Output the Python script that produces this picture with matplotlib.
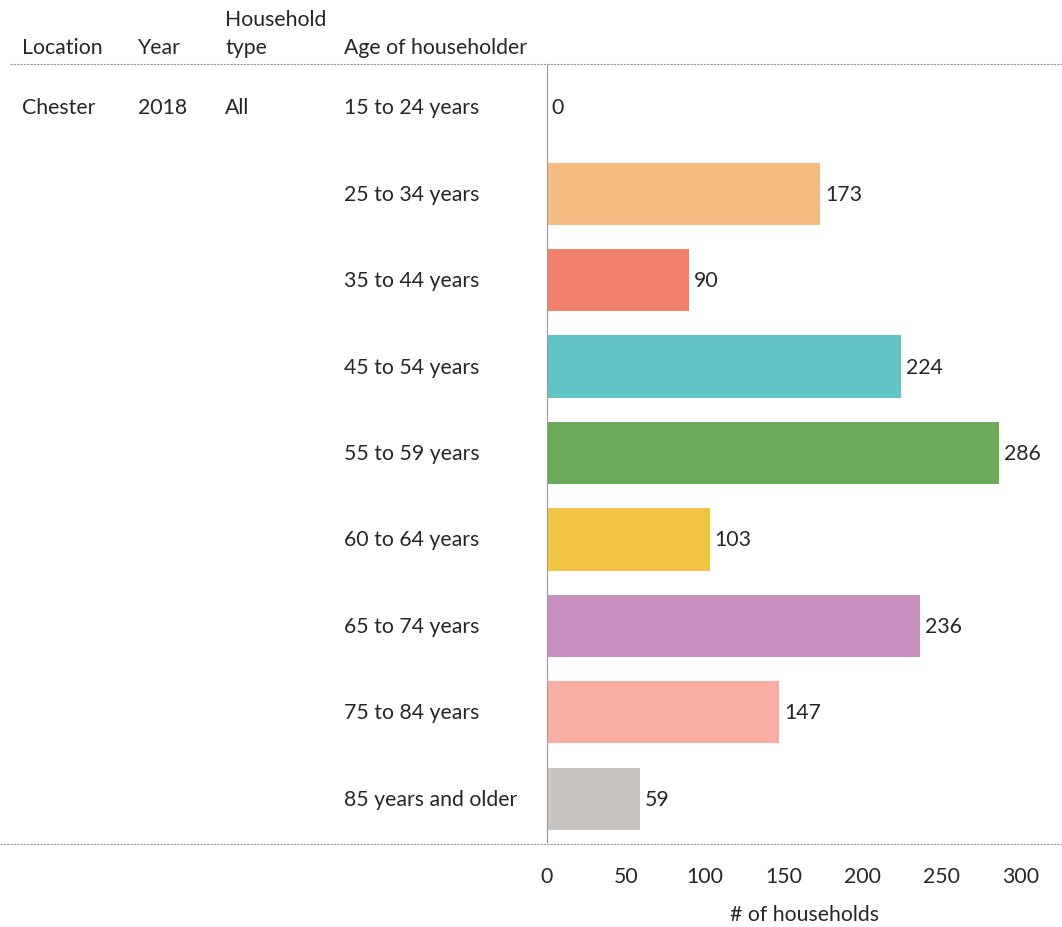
import matplotlib.pyplot as plt
from matplotlib.transforms import blended_transform_factory
from matplotlib.lines import Line2D

plt.rcParams['font.family'] = ['Lato', 'DejaVu Sans']

# Data
location = 'Chester'
year = '2018'
household_type = 'All'
age_groups = ['15 to 24 years', '25 to 34 years', '35 to 44 years', '45 to 54 years',
              '55 to 59 years', '60 to 64 years', '65 to 74 years', '75 to 84 years',
              '85 years and older']
households = [0, 173, 90, 224, 286, 103, 236, 147, 59]
colors = ['#F4BC80', '#F4BC80', '#F07F6B', '#63C4C6', '#6BAA58', '#F1C443',
          '#C98FBE', '#F8AEA4', '#C9C4C1']
xticks = [0, 50, 100, 150, 200, 250, 300]

fs = 15.3
txt = '#262626'

fig = plt.figure(figsize=(10.62, 9.28), dpi=100)
W, H = 1062, 928
ax = fig.add_axes([547 / W, 1 - 843 / H, (W - 547) / W, (843 - 65) / H])

y = list(range(len(age_groups)))
ax.barh(y, households, height=0.72, color=colors)
for yi, v in zip(y, households):
    ax.text(v + 3, yi, str(v), va='center', ha='left', fontsize=fs, color=txt)

ax.set_ylim(len(age_groups) - 0.5, -0.5)
ax.set_xlim(0, 326)
ax.set_xticks(xticks)
ax.set_xticklabels([str(t) for t in xticks], fontsize=fs, color=txt)
ax.tick_params(axis='x', length=0, pad=17)
ax.set_yticks([])
ax.set_xlabel('# of households', fontsize=fs, color=txt, va='center')
ax.xaxis.set_label_coords(0.5, -(915 - 843) / (843 - 65))
for s in ['top', 'right', 'bottom']:
    ax.spines[s].set_visible(False)
ax.spines['left'].set_color('#999999')
ax.spines['left'].set_linestyle((0, (2, 1)))
ax.spines['left'].set_linewidth(0.8)

# row labels (age groups) in a left text column
tr = blended_transform_factory(fig.transFigure, ax.transData)
for yi, lab in zip(y, age_groups):
    ax.text(344 / W, yi, lab, transform=tr, ha='left', va='center', fontsize=fs,
            color=txt, clip_on=False)
ax.text(22 / W, 0, location, transform=tr, ha='left', va='center', fontsize=fs, color=txt)
ax.text(138 / W, 0, year, transform=tr, ha='left', va='center', fontsize=fs, color=txt)
ax.text(225 / W, 0, household_type, transform=tr, ha='left', va='center', fontsize=fs, color=txt)

# header
hy = 1 - 48 / H
fig.text(22 / W, hy, 'Location', ha='left', va='center', fontsize=fs, color=txt)
fig.text(138 / W, hy, 'Year', ha='left', va='center', fontsize=fs, color=txt)
fig.text(225 / W, 1 - 20 / H, 'Household', ha='left', va='center', fontsize=fs, color=txt)
fig.text(225 / W, hy, 'type', ha='left', va='center', fontsize=fs, color=txt)
fig.text(344 / W, hy, 'Age of householder', ha='left', va='center', fontsize=fs, color=txt)

# separator lines
fig.add_artist(Line2D([10 / W, 1], [1 - 65 / H, 1 - 65 / H], color='#999999', lw=0.8,
                      linestyle=(0, (2, 1))))
fig.add_artist(Line2D([0, 1], [1 - 845 / H, 1 - 845 / H], color='#999999', lw=0.8,
                      linestyle=(0, (2, 1))))

fig.savefig('out.png', dpi=100)
